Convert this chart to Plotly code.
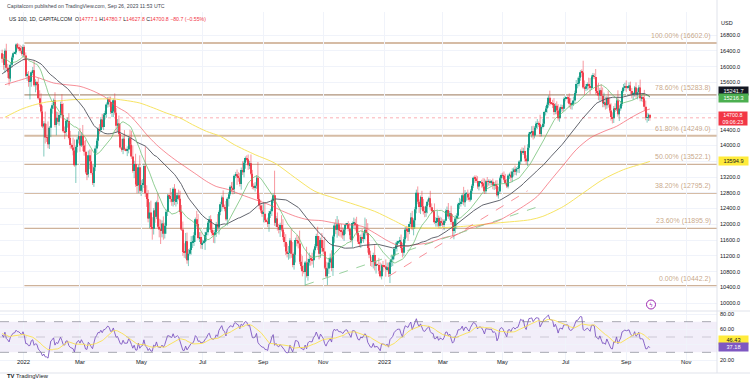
import numpy as np
import pandas as pd
import plotly.graph_objects as go

# ----------------------------------------------------------------- data
# daily closes before the visible window (only used to warm up SMA / RSI)
pre_closes = [
    14470, 14650, 14750, 14870, 14830,
    14700, 14660, 14760, 15040, 15150,
    15290, 15400, 15390, 15450, 15320,
    15470, 15520, 15540, 15720, 15850,
    15940, 16000, 16200, 16350, 16370,
    16340, 16200, 15970, 16040, 16250,
    16250, 16350, 16350, 16490, 16570,
    16390, 16310, 16360, 16360, 16020,
    16390, 16140, 15850, 16000, 15710,
    15870, 16350, 16400, 16100, 16340,
]
first_visible_day = "2021-12-13"
# daily closes, one per weekday, Dec 13 2021 .. Sep 26 2023
closes = [
    16200, 16040, 16400, 15970, 15860,
    15700, 16050, 16230, 16340, 16360,
    16560, 16480, 16470, 16400, 16320,
    16500, 16280, 15770, 15770, 15610,
    15620, 15860, 15910, 15530, 15610,
    15560, 15200, 15040, 14860, 14480,
    14560, 14200, 14190, 14030, 14450,
    14930, 15020, 15150, 14520, 14700,
    14600, 14770, 15050, 14770, 14360,
    14340, 14620, 14620, 14190, 14010,
    13950, 13870, 13500, 13960, 14150,
    14240, 14000, 14240, 14000, 13840,
    13320, 13270, 13750, 13600, 13300,
    13050, 13450, 13920, 14120, 14420,
    14390, 14660, 14470, 14780, 14800,
    15040, 15180, 15100, 14840, 14860,
    15150, 14830, 14500, 14560, 14290,
    13950, 13900, 14170, 13900, 13880,
    13900, 14180, 14020, 13720, 13350,
    13530, 13010, 12990, 13450, 12850,
    13000, 13050, 13480, 12790, 12640,
    12150, 12300, 11930, 11890, 12350,
    12190, 12560, 11940, 11870, 11840,
    12020, 11760, 11960, 12320, 12730,
    12720, 12640, 12570, 12900, 12590,
    12640, 12740, 12650, 12310, 11870,
    11300, 11280, 11570, 11090, 11250,
    11350, 11550, 11550, 11720, 12130,
    12010, 11650, 11680, 11500, 11530,
    11560, 11730, 11800, 12040, 12130,
    11860, 11770, 11750, 11800, 12000,
    11920, 12310, 12510, 12680, 12440,
    12390, 12130, 12650, 12760, 12950,
    12930, 12890, 13230, 13270, 13210,
    13180, 13020, 13380, 13320, 13560,
    13680, 13650, 13500, 13550, 13280,
    12950, 12940, 12980, 13180, 12640,
    12480, 12350, 12270, 12270, 12100,
    12080, 12010, 12280, 12330, 12600,
    12740, 12040, 12150, 11930, 11860,
    11980, 11870, 11680, 11550, 11310,
    11250, 11270, 11590, 11250, 10970,
    11230, 11600, 11580, 11510, 11050,
    10940, 10810, 10790, 11030, 10690,
    11030, 11120, 11100, 11090, 11340,
    11440, 11700, 11450, 11250, 11600,
    11400, 11310, 10900, 10680, 10880,
    11030, 11140, 10890, 11690, 11970,
    11860, 12000, 11850, 11830, 11820,
    11720, 11870, 11990, 12000, 11890,
    11720, 11600, 12030, 12040, 12000,
    11780, 11560, 11520, 11680, 11630,
    11770, 11860, 11780, 11400, 11230,
    11060, 11050, 11220, 10950, 10980,
    10970, 10820, 10680, 10960, 10940,
    10930, 10860, 10910, 10740, 11040,
    11110, 11190, 11380, 11460, 11540,
    11560, 11560, 11400, 11280, 11620,
    11870, 11840, 11810, 12010, 12170,
    11890, 12100, 12380, 12800, 12570,
    12440, 12690, 12460, 12330, 12300,
    12460, 12570, 12660, 12430, 12340,
    12330, 12050, 12060, 12160, 11960,
    12060, 12040, 11980, 12090, 12340,
    12360, 12200, 12280, 12060, 11830,
    11900, 12150, 12220, 12510, 12520,
    12570, 12740, 12560, 12770, 12770,
    12680, 12620, 12850, 12980, 13180,
    13160, 13100, 12960, 13060, 13070,
    13040, 12960, 12840, 13090, 13080,
    13080, 13070, 13080, 12990, 13010,
    12980, 12740, 12830, 13170, 13250,
    13230, 13130, 13050, 12960, 13240,
    13260, 13190, 13340, 13390, 13340,
    13410, 13420, 13590, 13860, 13830,
    13860, 13670, 13600, 13940, 14300,
    14320, 14360, 14250, 14450, 14550,
    14550, 14540, 14290, 14470, 14550,
    14850, 14940, 15030, 15210, 15080,
    15060, 15050, 14850, 15010, 14890,
    14690, 14940, 14970, 14930, 15180,
    15200, 15210, 15200, 15060, 15030,
    15060, 15140, 15330, 15560, 15570,
    15720, 15860, 15850, 15470, 15440,
    15500, 15560, 15510, 15460, 15750,
    15760, 15740, 15380, 15340, 15270,
    15400, 15260, 15070, 15090, 15020,
    15210, 15040, 14890, 14720, 14690,
    14940, 14920, 15140, 14790, 14940,
    15050, 15380, 15470, 15500, 15470,
    15480, 15520, 15380, 15300, 15300,
    15470, 15300, 15350, 15470, 15200,
    15210, 15190, 14980, 14700, 14700,
    14781.5, 14700.8,
]
# wick above the body / below the body (points)
upper_wick = [
    90, 120, 60, 180, 100, 120, 60, 50, 40, 20, 30, 42, 100, 80, 120,
    60, 40, 80, 90, 120, 60, 40, 80, 250, 70, 30, 150, 200, 280, 150,
    60, 300, 350, 420, 40, 30, 60, 40, 200, 160, 150, 60, 60, 250, 300,
    120, 60, 90, 200, 180, 40, 250, 280, 40, 60, 120, 200, 100, 280, 120,
    300, 200, 120, 150, 300, 200, 60, 80, 60, 40, 120, 60, 140, 40, 80,
    50, 50, 60, 140, 120, 40, 170, 120, 110, 200, 250, 220, 60, 220, 40,
    80, 60, 220, 350, 280, 80, 260, 260, 60, 300, 120, 100, 60, 500, 200,
    230, 260, 300, 250, 60, 200, 40, 220, 200, 250, 80, 180, 80, 60, 40,
    40, 200, 180, 40, 120, 160, 60, 140, 200, 180, 200, 220, 210, 220, 120,
    40, 150, 160, 80, 40, 210, 250, 120, 130, 80, 40, 80, 120, 40, 80,
    100, 170, 80, 60, 60, 260, 40, 60, 50, 180, 60, 200, 40, 60, 40,
    120, 150, 40, 60, 120, 110, 120, 60, 220, 50, 40, 70, 120, 60, 220,
    100, 90, 90, 60, 400, 120, 140, 150, 300, 280, 40, 90, 60, 60, 50,
    40, 620, 60, 150, 80, 60, 250, 260, 120, 200, 200, 180, 60, 290, 300,
    60, 60, 130, 110, 330, 190, 260, 150, 40, 400, 100, 160, 100, 180, 40,
    60, 60, 240, 250, 60, 180, 200, 370, 150, 150, 120, 120, 200, 40, 70,
    160, 210, 120, 80, 180, 100, 40, 40, 30, 80, 140, 110, 40, 130, 100,
    190, 210, 170, 60, 200, 40, 310, 270, 250, 150, 100, 120, 60, 250, 80,
    20, 180, 210, 40, 110,
    20, 180, 120, 120, 50, 120, 40, 40, 80, 40, 30, 120, 180, 130, 60,
    60, 90, 100, 60, 120, 170, 50, 60, 80, 160, 60, 40, 160, 180, 120,
    40, 60, 40, 190, 100, 20, 200, 120, 190, 60, 130, 110, 90, 40, 40,
    90, 180, 60, 190, 200, 180, 80, 60, 40, 150, 80, 40, 210, 100, 50,
    110, 120, 40, 40, 30, 60, 80, 120, 40, 20, 60, 130, 200, 40, 110,
    60, 60, 40, 80, 60, 100, 140, 120, 40, 40, 60, 110, 150, 100, 40,
    50, 80, 80, 50, 100, 40, 60, 40, 40, 90, 80, 140, 80, 90, 40,
    30, 130, 140, 40, 60, 120, 60, 240, 40, 120, 30, 60, 60, 60, 180,
    20, 100, 150, 60, 110, 160, 40, 70, 60, 40, 60, 20, 60, 120, 140,
    40, 100, 60, 100, 150, 40, 50, 72, 300, 180, 60, 40, 160, 200, 40,
    80, 70, 200, 160, 250, 60, 150, 210, 250, 150, 40, 180, 180, 180, 120,
    60, 130, 60, 260, 80, 80, 40, 90, 90, 150, 30, 80, 100, 80, 60,
    40, 130, 100, 60, 200, 70, 120, 220, 160, 130, 30, 4,
]
lower_wick = [
    100, 120, 200, 60, 150, 180, 80, 80, 60, 20, 60, 40, 80, 60, 40,
    80, 120, 40, 130, 120, 440, 130, 70, 40, 180, 150, 40, 60, 40, 40,
    760, 150, 100, 100, 120, 240, 120, 90, 60, 260, 60, 100, 60, 40, 40,
    180, 90, 170, 40, 90, 40, 120, 40, 452, 140, 100, 160, 40, 140, 100,
    40, 150, 80, 200, 40, 50, 100, 100, 120, 140, 110, 60, 40, 80, 120,
    100, 80, 120, 40, 120, 140, 50, 170, 160, 50, 40, 60, 120, 40, 30,
    150, 100, 100, 60, 40, 180, 60, 200, 200, 50, 130, 190, 130, 100, 200,
    100, 250, 60, 280, 150, 150, 60, 40, 200, 340, 170, 150, 120, 200, 110,
    30, 80, 100, 120, 100, 140, 130, 40, 60, 40, 100, 130, 150, 90, 150,
    40, 120, 150, 100, 170, 90, 40, 100, 120, 130, 30, 210, 160, 80, 180,
    60, 70, 220, 230, 120, 90, 180, 80, 180, 40, 60, 40, 160, 200, 40,
    120, 130, 120, 60, 210, 100, 60, 140, 70, 130, 150, 60, 120, 100, 40,
    60, 60, 110, 80, 40, 100, 60, 80, 220, 60, 30, 80, 200, 120, 120,
    60, 80, 100, 90, 90, 180, 50, 80, 120, 90, 90, 150, 140, 100, 60,
    120, 200, 140, 120, 60, 80, 130, 40, 348, 40, 120, 80, 150, 110, 190,
    80, 40, 100, 140, 100, 100, 70, 40, 30, 220, 140, 140, 80, 200, 160,
    110, 200, 140, 140, 160, 100, 140, 120, 40, 70, 100, 60, 180, 120, 160,
    60, 60, 100, 120, 60, 100, 160, 60, 120, 90, 120, 130, 170, 120, 200,
    20, 80, 30, 80, 140,
    30, 190, 60, 70, 230, 120, 170, 80, 170, 150, 40, 60, 60, 120, 90,
    100, 180, 230, 60, 100, 40, 170, 210, 100, 60, 150, 180, 90, 80, 120,
    110, 180, 80, 80, 70, 30, 40, 110, 120, 60, 60, 80, 110, 130, 60,
    60, 60, 100, 70, 130, 210, 120, 260, 90, 120, 70, 60, 80, 120, 170,
    70, 50, 40, 60, 60, 110, 50, 60, 100, 20, 110, 50, 70, 60, 140,
    100, 90, 80, 100, 120, 90, 40, 90, 60, 130, 60, 50, 60, 40, 50,
    90, 110, 120, 130, 90, 100, 100, 120, 70, 60, 70, 80, 80, 120, 60,
    30, 120, 100, 70, 50, 130, 70, 70, 60, 40, 70, 90, 110, 70, 70,
    30, 100, 80, 60, 100, 60, 90, 90, 70, 60, 60, 30, 120, 100, 110,
    120, 60, 80, 40, 110, 70, 80, 110, 40, 150, 60, 100, 90, 160, 40,
    60, 60, 90, 70, 120, 140, 120, 100, 100, 110, 90, 80, 60, 90, 130,
    120, 70, 40, 60, 170, 60, 50, 40, 80, 110, 30, 70, 90, 100, 140,
    60, 90, 130, 60, 80, 80, 90, 100, 60, 120, 80, 73,
]
last_bar_open = 14777.1   # O of the last bar from the legend

# moving averages (bar index, value)
sma100_idx = [-13, -5, 3, 7, 15, 22, 31, 41, 51, 60, 67, 75, 82, 89, 96, 103, 111,
              118, 125, 132, 139, 148, 157, 167, 177, 186, 196, 205, 215, 224, 234,
              244, 253, 263, 272, 282, 292, 302, 312, 322, 331, 341, 350, 360, 370,
              379, 389, 398, 408, 418, 427, 437, 446, 451]
sma100_val = [15542, 15627, 15711, 15754, 15669, 15585, 15542, 15500, 15373, 15204,
              14993, 14824, 14570, 14274, 14020, 13809, 13597, 13428, 13259, 13090,
              12960, 12878, 12752, 12625, 12498, 12346, 12202, 12117, 12092, 12033,
              11990, 11948, 11779, 11568, 11441, 11483, 11530, 11652, 11737, 11906,
              11990, 12075, 12244, 12456, 12709, 13090, 13513, 13893, 14189, 14358,
              14485, 14697, 14866, 14925]
sma200_idx = [-13, -2, 7, 17, 27, 36, 46, 55, 65, 75, 84, 94, 103, 113, 122, 132, 142,
              152, 167, 181, 196, 210, 224, 239, 253, 268, 277, 287, 296, 317, 341,
              365, 374, 389, 403, 417, 432, 446, 451]
sma200_val = [14714, 14908, 15018, 15103, 15136, 15162, 15170, 15179, 15179, 15136,
              15077, 14950, 14824, 14697, 14527, 14358, 14232, 14020, 13766, 13555,
              13174, 12836, 12667, 12498, 12329, 12075, 11923, 11906, 11906, 11948,
              12033, 12117, 12202, 12456, 12794, 13132, 13386, 13540, 13595]

fib_low, fib_high = 10442.2, 16602.0
fib_ratios = [1.0, 0.786, 0.618, 0.5, 0.382, 0.236, 0.0]
fib_start_idx = 1

trend_green_idx, trend_green_px = [203, 370], [10460, 12440]
trend_red_idx, trend_red_px = [263, 363], [10680, 12850]

price_ticks = list(range(10000, 16801, 400))
price_ticks_hidden = [15200, 14800, 13600]     # covered by the value badges
rsi_ticks = [20, 40, 60, 80]
rsi_ticks_hidden = [40]
month_ticks = [(2022, 1, "2022"), (2022, 3, "Mar"), (2022, 5, "May"), (2022, 7, "Jul"),
               (2022, 9, "Sep"), (2022, 11, "Nov"), (2023, 1, "2023"), (2023, 3, "Mar"),
               (2023, 5, "May"), (2023, 7, "Jul"), (2023, 9, "Sep"), (2023, 11, "Nov")]

badge_sma50 = 15241.7
badge_sma20 = 15216.3
badge_last = 14700.8
badge_countdown = "09:06:23"
badge_sma200 = 13594.9
badge_rsi_ma = 46.43
badge_rsi = 37.18

# ----------------------------------------------------------------- derived
n = len(closes)
assert len(upper_wick) == n and len(lower_wick) == n, (n, len(upper_wick), len(lower_wick))
n_pre = len(pre_closes)
xs = np.arange(n) - 15                       # bar 0 = first weekday of 2022
c = np.array(closes, float)
o = np.concatenate([[pre_closes[-1]], c[:-1]])
o[-1] = last_bar_open
hi = np.maximum(o, c) + np.array(upper_wick, float)
lo = np.minimum(o, c) - np.array(lower_wick, float)

all_c = pd.Series(np.concatenate([pre_closes, c]))
sma20 = all_c.rolling(20).mean().values[n_pre:]
sma50 = all_c.rolling(50).mean().values[n_pre:]
d = all_c.diff()
gain = d.clip(lower=0).values
loss = (-d.clip(upper=0)).values
rsi = np.full(len(all_c), np.nan)
ag, al = gain[1:15].mean(), loss[1:15].mean()
rsi[14] = 100 - 100 / (1 + ag / al)
for k in range(15, len(all_c)):
    ag = (ag * 13 + gain[k]) / 14
    al = (al * 13 + loss[k]) / 14
    rsi[k] = 100 - 100 / (1 + ag / al)
rsi_ma = pd.Series(rsi).rolling(14).mean().values[n_pre:]
rsi_v = rsi[n_pre:]

full_days = pd.bdate_range(first_visible_day, "2023-11-30")
tick_idx, tick_txt = [], []
for yy, mm, t in month_ticks:
    k = int(np.argmax(full_days >= pd.Timestamp(yy, mm, 1)))
    tick_idx.append(k - 15)
    tick_txt.append(t)

# ----------------------------------------------------------------- geometry
W, H = 750, 387
PLOT_R = 717
BAR_PX, X0_PX = 1.39, 23
xmin, xmax = -X0_PX / BAR_PX, (PLOT_R - X0_PX) / BAR_PX
REF_Y, REF_P, P_PER_PX = 285.7, 10442.2, 25.37
MAIN_TOP, MAIN_BOT = 12, 311
RSI_TOP, RSI_BOT = 311, 363
def p_at(y): return REF_P + (REF_Y - y) * P_PER_PX
def r_at(y): return 80 - (y - 314) / 0.767
def py(px): return 1 - px / H
def pxx(px): return px / PLOT_R

UP, DN = "#089981", "#f23645"
TXT = "#131722"
GRID = "#f0f3fa"
FONT = "Liberation Sans"

fig = go.Figure()

# candles: wicks + bodies
for mask, col in [(c >= o, UP), (c < o, DN)]:
    wx, wy = [], []
    for i in np.where(mask)[0]:
        wx += [xs[i], xs[i], None]
        wy += [lo[i], hi[i], None]
    fig.add_trace(go.Scatter(x=wx, y=wy, mode="lines", line=dict(color=col, width=0.6),
                             opacity=0.85, hoverinfo="skip", showlegend=False))
body_h = np.maximum(np.abs(c - o), 18)
fig.add_trace(go.Bar(x=xs, y=body_h, base=np.minimum(o, c), width=0.72,
                     marker=dict(color=[UP if c[i] >= o[i] else DN for i in range(n)],
                                 line=dict(width=0)), opacity=0.9,
                     hoverinfo="skip", showlegend=False))

# moving averages
fig.add_trace(go.Scatter(x=sma200_idx, y=sma200_val, mode="lines",
                         line=dict(color="#f7e463", width=1, shape="spline", smoothing=0.8),
                         hoverinfo="skip", showlegend=False))
fig.add_trace(go.Scatter(x=sma100_idx, y=sma100_val, mode="lines",
                         line=dict(color="rgba(242,82,95,0.65)", width=1, shape="spline", smoothing=0.8),
                         hoverinfo="skip", showlegend=False))
fig.add_trace(go.Scatter(x=xs, y=sma50, mode="lines", line=dict(color="#50535e", width=0.9),
                         hoverinfo="skip", showlegend=False))
fig.add_trace(go.Scatter(x=xs, y=sma20, mode="lines", line=dict(color="rgba(102,187,106,0.8)", width=0.9),
                         hoverinfo="skip", showlegend=False))
# trend lines
fig.add_trace(go.Scatter(x=trend_green_idx, y=trend_green_px, mode="lines",
                         line=dict(color="rgba(129,199,132,0.8)", width=1, dash="dash"),
                         hoverinfo="skip", showlegend=False))
fig.add_trace(go.Scatter(x=trend_red_idx, y=trend_red_px, mode="lines",
                         line=dict(color="rgba(242,54,69,0.55)", width=1, dash="dash"),
                         hoverinfo="skip", showlegend=False))
# RSI
fig.add_trace(go.Scatter(x=xs, y=rsi_v, mode="lines", line=dict(color="#7e57c2", width=0.9),
                         xaxis="x2", yaxis="y2", hoverinfo="skip", showlegend=False))
fig.add_trace(go.Scatter(x=xs, y=rsi_ma, mode="lines", line=dict(color="#fbe14f", width=0.9),
                         xaxis="x2", yaxis="y2", hoverinfo="skip", showlegend=False))

shapes, ann = [], []
# fibonacci levels
for r in fib_ratios:
    lvl = fib_low + r * (fib_high - fib_low)
    thick = r in (1.0, 0.618, 0.382)
    col = "rgba(200,165,135,0.75)" if thick else ("rgba(160,128,100,0.85)" if r == 0.786 else "rgba(190,152,120,0.75)")
    shapes.append(dict(type="line", xref="x", yref="y", x0=fib_start_idx, x1=xmax, y0=lvl, y1=lvl,
                       line=dict(color=col, width=2 if thick else 1.3), layer="below"))
    ann.append(dict(xref="x", yref="y", x=xmax - 4 / BAR_PX, y=lvl, xanchor="right", yanchor="bottom",
                    yshift=1, showarrow=False, text=f"{r*100:.2f}% ({lvl:.1f})",
                    font=dict(size=7, color="rgba(190,150,115,0.85)", family=FONT)))
# last price line
shapes.append(dict(type="line", xref="x", yref="y", x0=xmin, x1=xmax, y0=badge_last, y1=badge_last,
                   line=dict(color="rgba(242,54,69,0.5)", width=0.8, dash="dot")))
# RSI band and levels
shapes.append(dict(type="rect", xref="paper", yref="y2", x0=0, x1=1, y0=30, y1=70,
                   fillcolor="rgba(126,87,194,0.1)", line=dict(width=0), layer="below"))
for lvl, a in [(70, 0.8), (50, 0.4), (30, 0.8)]:
    shapes.append(dict(type="line", xref="paper", yref="y2", x0=0, x1=1, y0=lvl, y1=lvl,
                       line=dict(color=f"rgba(120,123,134,{a})", width=0.8, dash="dash")))
# separators
shapes.append(dict(type="line", xref="paper", yref="paper", x0=0, x1=W / PLOT_R, y0=py(311), y1=py(311),
                   line=dict(color="#e0e3eb", width=1)))
shapes.append(dict(type="line", xref="paper", yref="paper", x0=0, x1=W / PLOT_R, y0=py(373), y1=py(373),
                   line=dict(color="#e0e3eb", width=1)))
shapes.append(dict(type="line", xref="paper", yref="paper", x0=1, x1=1, y0=py(373), y1=1,
                   line=dict(color="#e0e3eb", width=1)))
# lightning marker
shapes.append(dict(type="circle", xref="paper", yref="paper", x0=pxx(646.5), x1=pxx(655.5),
                   y0=py(309), y1=py(300), line=dict(color="#9c27b0", width=1), fillcolor="white"))
ann.append(dict(xref="paper", yref="paper", x=pxx(651), y=py(304.5), text="ϟ", showarrow=False,
                xanchor="center", yanchor="middle",
                font=dict(size=6, color="#9c27b0", family="DejaVu Sans")))

# header
ann.append(dict(xref="paper", yref="paper", x=pxx(5), y=py(6), xanchor="left", yanchor="middle",
                showarrow=False, text="Capitalcom published on TradingView.com, Sep 26, 2023 11:53 UTC",
                font=dict(size=5.2, color="#434651", family=FONT)))
R = '<span style="color:#f23645">'
ann.append(dict(xref="paper", yref="paper", x=pxx(7), y=py(18.5), xanchor="left", yanchor="middle",
                showarrow=False,
                text=(f"US 100, 1D, CAPITALCOM  O{R}14777.1</span> H{R}14780.7</span> "
                      f"L{R}14627.8</span> C{R}14700.8</span> {R}−80.7 (−0.55%)</span>"),
                font=dict(size=5.2, color=TXT, family=FONT)))
ann.append(dict(xref="paper", yref="paper", x=pxx(735), y=py(17.5), text="USD", showarrow=False,
                font=dict(size=5.5, color=TXT, family=FONT)))

# axis badges
def badge(ypx, text, bg, fg="white", pad=1, size=5.6):
    ann.append(dict(xref="paper", yref="paper", x=pxx(PLOT_R + 1), y=py(ypx), xanchor="left",
                    yanchor="middle", text=text, showarrow=False, bgcolor=bg, borderpad=pad,
                    width=27, align="center", font=dict(size=size, color=fg, family=FONT)))
def ypx_price(p): return REF_Y - (p - REF_P) / P_PER_PX
def ypx_rsi(r): return 314 + (80 - r) * 0.767
badge(ypx_price(badge_sma50) - 6, f"{badge_sma50:.1f}", "#131722")
badge(ypx_price(badge_sma20) + 0.5, f"{badge_sma20:.1f}", "#4caf50")
badge(ypx_price(badge_last) + 1.0, f"{badge_last:.1f}<br>{badge_countdown}", "#f23645", pad=0.3, size=5.3)
badge(ypx_price(badge_sma200), f"{badge_sma200:.1f}", "#ffeb3b", TXT)
badge(ypx_rsi(badge_rsi_ma), f"{badge_rsi_ma:.2f}", "#ffeb3b", TXT)
badge(ypx_rsi(badge_rsi), f"{badge_rsi:.2f}", "#7e57c2")

# time labels
for ti, tt in zip(tick_idx, tick_txt):
    ann.append(dict(xref="x", yref="paper", x=ti, y=py(367), text=tt, showarrow=False,
                    font=dict(size=5.8, color=TXT, family=FONT)))
# logo
ann.append(dict(xref="paper", yref="paper", x=pxx(5), y=py(380.5), xanchor="left", showarrow=False,
                text="<b>TV</b> TradingView", font=dict(size=5.8, color=TXT, family=FONT)))

price_labels = ["" if v in price_ticks_hidden else f"{v:.1f}" for v in price_ticks]
rsi_labels = ["" if v in rsi_ticks_hidden else f"{v:.2f}" for v in rsi_ticks]

fig.update_layout(
    width=W, height=H, margin=dict(l=0, r=W - PLOT_R, t=0, b=0),
    paper_bgcolor="white", plot_bgcolor="white", barmode="overlay",
    showlegend=False, hovermode=False, shapes=shapes, annotations=ann,
    xaxis=dict(domain=[0, 1], range=[xmin, xmax], anchor="y", tickvals=tick_idx,
               showticklabels=False, showgrid=True, gridcolor=GRID, zeroline=False, ticks=""),
    xaxis2=dict(domain=[0, 1], range=[xmin, xmax], anchor="y2", matches="x", tickvals=tick_idx,
                showticklabels=False, showgrid=True, gridcolor=GRID, zeroline=False, ticks=""),
    yaxis=dict(domain=[py(MAIN_BOT), py(MAIN_TOP)], range=[p_at(MAIN_BOT), p_at(MAIN_TOP)],
               side="right", tickvals=price_ticks, ticktext=price_labels, showgrid=True,
               gridcolor=GRID, zeroline=False, ticks="", ticklabelstandoff=2,
               tickfont=dict(size=5.6, color=TXT, family=FONT)),
    yaxis2=dict(domain=[py(RSI_BOT), py(RSI_TOP)], range=[r_at(RSI_BOT), r_at(RSI_TOP)],
                side="right", anchor="x2", tickvals=rsi_ticks, ticktext=rsi_labels, showgrid=True,
                gridcolor=GRID, zeroline=False, ticks="", ticklabelstandoff=2,
                tickfont=dict(size=5.6, color=TXT, family=FONT)),
)
fig.write_html("out.html", config={"displayModeBar": False},
               post_script="document.body.style.margin='0px';")
